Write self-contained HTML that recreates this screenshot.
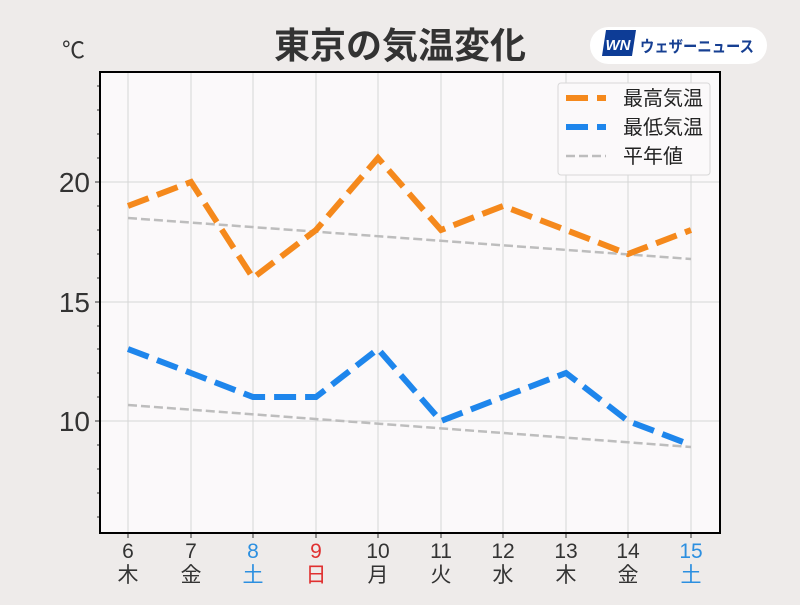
<!DOCTYPE html>
<html><head><meta charset="utf-8"><style>
body{margin:0;background:#eeebea;}
svg text{font-family:"Liberation Sans","Noto Sans CJK JP",sans-serif;}
</style></head><body>
<svg width="800" height="600" viewBox="0 0 800 600" xmlns="http://www.w3.org/2000/svg">
<rect width="800" height="600" fill="#eeebea"/>
<text x="400" y="58" text-anchor="middle" font-size="36" font-weight="bold" fill="#333">東京の気温変化</text>
<rect x="590" y="27" width="177" height="37" rx="18.5" fill="#fff"/>
<polygon points="606,30 636,30 632,56 602,56" fill="#0d3c96"/>
<text x="618" y="50" text-anchor="middle" font-size="15" font-style="italic" font-weight="bold" fill="#fff">WN</text>
<text x="640" y="52" font-size="16" font-weight="bold" fill="#163f92" textLength="114" lengthAdjust="spacingAndGlyphs">ウェザーニュース</text>
<text x="62" y="58" font-size="23" fill="#333">℃</text>
<rect x="100" y="72" width="620" height="461" fill="#fbf9fa"/>
<g stroke="#d6d6d6" stroke-width="1">
<line x1="128" y1="72" x2="128" y2="533"/><line x1="191" y1="72" x2="191" y2="533"/><line x1="253" y1="72" x2="253" y2="533"/><line x1="316" y1="72" x2="316" y2="533"/><line x1="378" y1="72" x2="378" y2="533"/><line x1="441" y1="72" x2="441" y2="533"/><line x1="503" y1="72" x2="503" y2="533"/><line x1="566" y1="72" x2="566" y2="533"/><line x1="628" y1="72" x2="628" y2="533"/><line x1="691" y1="72" x2="691" y2="533"/>
<line x1="100" y1="182" x2="720" y2="182"/><line x1="100" y1="302" x2="720" y2="302"/><line x1="100" y1="421" x2="720" y2="421"/>
</g>
<g stroke="#333" stroke-width="1">
<line x1="95" y1="182" x2="100" y2="182"/><line x1="95" y1="302" x2="100" y2="302"/><line x1="95" y1="421" x2="100" y2="421"/>
<line x1="97" y1="86" x2="100" y2="86"/><line x1="97" y1="110" x2="100" y2="110"/><line x1="97" y1="134" x2="100" y2="134"/><line x1="97" y1="158" x2="100" y2="158"/>
<line x1="97" y1="206" x2="100" y2="206"/><line x1="97" y1="230" x2="100" y2="230"/><line x1="97" y1="254" x2="100" y2="254"/><line x1="97" y1="278" x2="100" y2="278"/>
<line x1="97" y1="326" x2="100" y2="326"/><line x1="97" y1="349" x2="100" y2="349"/><line x1="97" y1="373" x2="100" y2="373"/><line x1="97" y1="397" x2="100" y2="397"/>
<line x1="97" y1="445" x2="100" y2="445"/><line x1="97" y1="469" x2="100" y2="469"/><line x1="97" y1="493" x2="100" y2="493"/><line x1="97" y1="517" x2="100" y2="517"/>
<line x1="128" y1="533" x2="128" y2="538"/><line x1="191" y1="533" x2="191" y2="538"/><line x1="253" y1="533" x2="253" y2="538"/><line x1="316" y1="533" x2="316" y2="538"/><line x1="378" y1="533" x2="378" y2="538"/><line x1="441" y1="533" x2="441" y2="538"/><line x1="503" y1="533" x2="503" y2="538"/><line x1="566" y1="533" x2="566" y2="538"/><line x1="628" y1="533" x2="628" y2="538"/><line x1="691" y1="533" x2="691" y2="538"/>
</g>
<g font-size="28" fill="#333" text-anchor="end">
<text x="90" y="192">20</text><text x="90" y="312">15</text><text x="90" y="431">10</text>
</g>
<g font-size="21" fill="#333" text-anchor="middle">
<text x="128" y="558">6</text><text x="128" y="582">木</text>
<text x="191" y="558">7</text><text x="191" y="582">金</text>
<text x="253" y="558" fill="#2c8fe0">8</text><text x="253" y="582" fill="#2c8fe0">土</text>
<text x="316" y="558" fill="#e03030">9</text><text x="316" y="582" fill="#e03030">日</text>
<text x="378" y="558">10</text><text x="378" y="582">月</text>
<text x="441" y="558">11</text><text x="441" y="582">火</text>
<text x="503" y="558">12</text><text x="503" y="582">水</text>
<text x="566" y="558">13</text><text x="566" y="582">木</text>
<text x="628" y="558">14</text><text x="628" y="582">金</text>
<text x="691" y="558" fill="#2c8fe0">15</text><text x="691" y="582" fill="#2c8fe0">土</text>
</g>
<polyline points="128,218 691,259" fill="none" stroke="#bdbdbd" stroke-width="2.5" stroke-dasharray="9,4"/>
<polyline points="128,405 691,447" fill="none" stroke="#bdbdbd" stroke-width="2.5" stroke-dasharray="9,4"/>
<polyline points="128,206 191,182 253,278 316,230 378,158 441,230 503,206 566,230 628,254 691,230" fill="none" stroke="#f5891c" stroke-width="6" stroke-dasharray="22,9"/>
<polyline points="128,349 191,373 253,397 316,397 378,349 441,421 503,397 566,373 628,421 691,445" fill="none" stroke="#1e86ec" stroke-width="6" stroke-dasharray="22,9"/>
<rect x="100" y="72" width="620" height="461" fill="none" stroke="#000" stroke-width="2"/>
<rect x="558" y="83" width="152" height="92" rx="3" fill="#fbf9fa" stroke="#d8d8d8"/>
<line x1="566" y1="98" x2="606" y2="98" stroke="#f5891c" stroke-width="6" stroke-dasharray="22,9"/>
<line x1="566" y1="127" x2="606" y2="127" stroke="#1e86ec" stroke-width="6" stroke-dasharray="22,9"/>
<line x1="566" y1="156" x2="606" y2="156" stroke="#bdbdbd" stroke-width="2.5" stroke-dasharray="9,4"/>
<g font-size="20" fill="#222">
<text x="623" y="105">最高気温</text><text x="623" y="134">最低気温</text><text x="623" y="163">平年値</text>
</g>
</svg>
</body></html>
